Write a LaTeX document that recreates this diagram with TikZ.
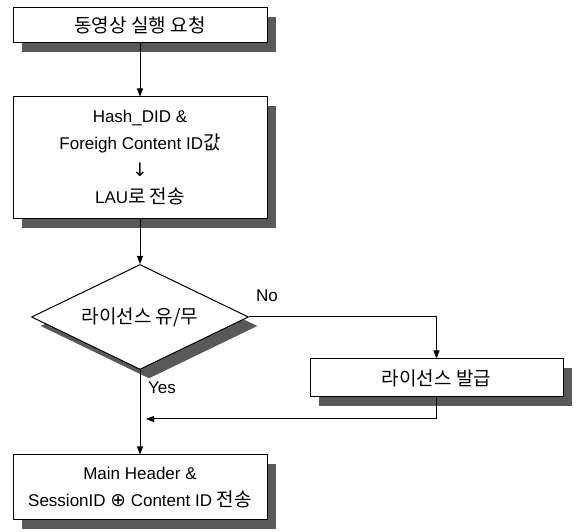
\documentclass[tikz,border=0pt]{standalone}
\usepackage{fontspec}
\setmainfont{Liberation Sans}
\newfontfamily\kr[Scale=1.12]{Noto Sans CJK KR}
\newfontfamily\sym[Scale=1.1]{DejaVu Sans}
\usetikzlibrary{shapes.geometric,shadows,arrows.meta}

\begin{document}
\begin{tikzpicture}[x=1pt, y=1pt,
    every node/.style={font=\fontsize{17}{27}\selectfont},
    boxshadow/.style={drop shadow={shadow xshift=9pt, shadow yshift=-9pt, fill=shade, opacity=1}},
    stepbox/.style={rectangle, draw, line width=1pt, fill=white, minimum width=254pt,
                    inner sep=0pt, align=center, boxshadow},
    decision/.style={diamond, aspect=2, draw, line width=1pt, fill=white, minimum width=217pt,
                     minimum height=105pt, inner sep=0pt, boxshadow},
    flow/.style={line width=1pt, -{Triangle[length=8pt, width=6pt]}},
    tag/.style={anchor=west, inner sep=0pt}]
    \colorlet{shade}{black!65}
    \useasboundingbox (0,0) rectangle (576,532);

    % process steps
    \node[stepbox, minimum height=35pt] (req) at (140,506.5) {\kr 동영상 실행 요청};
    \node[stepbox, minimum height=122pt] (hash) at (140,374)
        {Hash\_DID \&\\Foreigh Content ID{\kr 값}\\{\sym ↓}\\LAU{\kr 로 전송}};
    \node[decision] (lic) at (140,215) {\kr 라이선스 유/무};
    \node[stepbox, minimum width=253pt, minimum height=38pt] (issue) at (436.5,154) {\kr 라이선스 발급};
    \node[stepbox, minimum height=65pt] (send) at (140,44.5)
        {Main Header \&\\SessionID {\sym ⊕} Content ID {\kr 전송}};

    % branch labels
    \node[tag] (no)  at (256,236) {No};
    \node[tag] (yes) at (148,144) {Yes};

    % connectors
    \coordinate (merge) at (146,113);
    \draw[flow] (req) -- (hash);
    \draw[flow] (hash) -- (lic);
    \draw[flow] (lic.east) -| (issue.north);
    \draw[flow] (issue.south) |- (merge);
    \draw[flow] (lic.south) -- (send);
\end{tikzpicture}
\end{document}
